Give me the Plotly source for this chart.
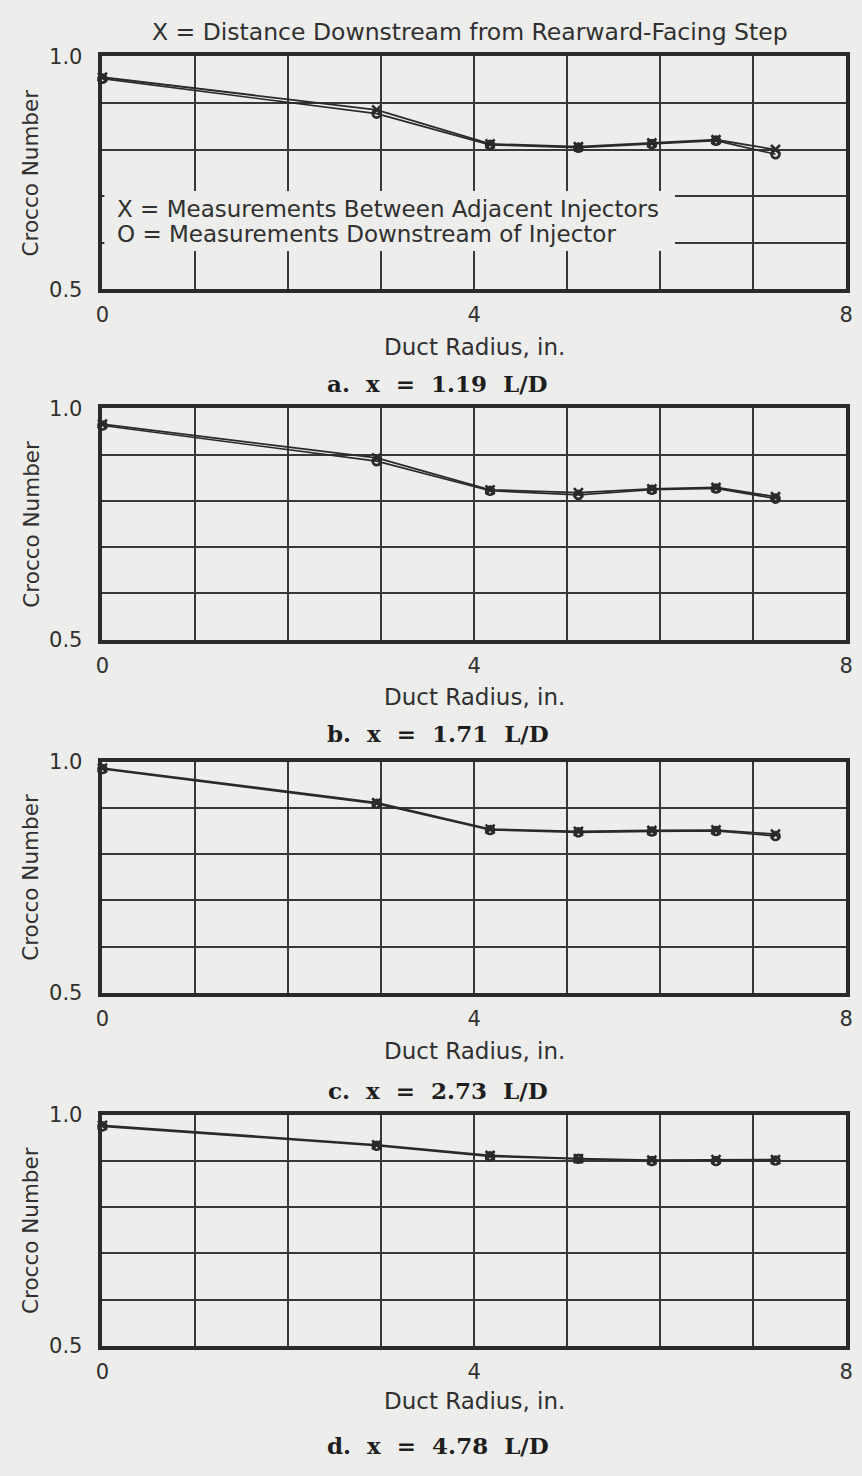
import plotly.graph_objects as go

# ---- data ----
radius = [0, 2.95, 4.17, 5.12, 5.91, 6.60, 7.24]

a_between = [0.955, 0.885, 0.812, 0.806, 0.814, 0.821, 0.800]
a_downstream = [0.952, 0.877, 0.810, 0.804, 0.812, 0.819, 0.790]
b_between = [0.966, 0.893, 0.824, 0.818, 0.826, 0.829, 0.809]
b_downstream = [0.963, 0.886, 0.822, 0.813, 0.824, 0.827, 0.805]
c_between = [0.986, 0.911, 0.854, 0.849, 0.851, 0.852, 0.843]
c_downstream = [0.984, 0.909, 0.852, 0.847, 0.849, 0.850, 0.839]
d_between = [0.977, 0.935, 0.912, 0.905, 0.902, 0.903, 0.903]
d_downstream = [0.975, 0.933, 0.910, 0.905, 0.900, 0.900, 0.901]

captions = ["a.&#160;&#160;x&#160;&#160;=&#160;&#160;1.19&#160;&#160;L/D",
            "b.&#160;&#160;x&#160;&#160;=&#160;&#160;1.71&#160;&#160;L/D",
            "c.&#160;&#160;x&#160;&#160;=&#160;&#160;2.73&#160;&#160;L/D",
            "d.&#160;&#160;x&#160;&#160;=&#160;&#160;4.78&#160;&#160;L/D"]
x_tickvals = [0, 1, 2, 3, 4, 5, 6, 7, 8]
x_ticktext = ["0", "", "", "", "4", "", "", "", "8"]
y_tickvals = [0.5, 0.6, 0.7, 0.8, 0.9, 1.0]
y_ticktext = ["0.5", "", "", "", "", "1.0"]

W, H = 862, 1476
BG = "#ededeb"
INK = "#2a2a2a"
TXT = "#303030"
SANS = "DejaVu Sans"
SERIF = "DejaVu Serif"

panels = [(a_between, a_downstream), (b_between, b_downstream),
          (c_between, c_downstream), (d_between, d_downstream)]
# pixel layout of each plot area (top, bottom) and text rows below it
rows_px = [(45, 282), (403, 638), (762, 997), (1121, 1356)]
xtitle_px = [341, 696, 1056, 1412]
caption_px = [378, 733, 1096, 1457]
left_px, right_px = 97, 853


def fx(p):
    return p / W


def fy(p):
    return 1 - p / H


fig = go.Figure()
annotations = []
shapes = []

for i, ((xb, xo), (top, bot)) in enumerate(zip(panels, rows_px)):
    n = "" if i == 0 else str(i + 1)
    xa, ya = "x" + n, "y" + n
    fig.add_trace(go.Scatter(
        x=radius, y=xb, xaxis=xa, yaxis=ya, mode="lines+markers",
        line=dict(color=INK, width=1.8),
        marker=dict(symbol="x-thin", size=9, line=dict(color=INK, width=2.6)),
        showlegend=False, cliponaxis=False))
    fig.add_trace(go.Scatter(
        x=radius, y=xo, xaxis=xa, yaxis=ya, mode="lines+markers",
        line=dict(color=INK, width=1.6),
        marker=dict(symbol="circle-open", size=8, color=INK, line=dict(color=INK, width=2.6)),
        showlegend=False, cliponaxis=False))

    common = dict(showline=True, mirror=True, linewidth=3.5, linecolor=INK,
                  showgrid=True, gridcolor="#383838", gridwidth=1.8,
                  zeroline=False, ticks="", tickfont=dict(family=SANS, size=21, color=TXT))
    fig.update_layout({
        "xaxis" + n: dict(common, domain=[fx(left_px), fx(right_px)], range=[0, 8],
                          tickvals=x_tickvals, ticktext=x_ticktext, anchor=ya,
                          ticklabelstandoff=4),
        "yaxis" + n: dict(common, domain=[fy(bot), fy(top)], range=[0.5, 1.0],
                          tickvals=y_tickvals, ticktext=y_ticktext, anchor=xa,
                          ticklabelstandoff=12),
    })

    # y title
    annotations.append(dict(x=fx(24), y=fy((top + bot) / 2), xref="paper", yref="paper",
                            text="Crocco Number", textangle=-90, showarrow=False,
                            font=dict(family=SANS, size=21.5, color=TXT),
                            xanchor="center", yanchor="middle"))
    # x title
    annotations.append(dict(x=fx(475), y=fy(xtitle_px[i]), xref="paper", yref="paper",
                            text="Duct Radius, in.", showarrow=False,
                            font=dict(family=SANS, size=23, color=TXT),
                            xanchor="center", yanchor="middle"))
    # caption
    annotations.append(dict(x=fx(438), y=fy(caption_px[i]), xref="paper", yref="paper",
                            text="<b>" + captions[i] + "</b>", showarrow=False,
                            font=dict(family=SERIF, size=23, color="#1e1e1e"),
                            xanchor="center", yanchor="middle"))

# top title
annotations.append(dict(x=fx(471), y=fy(20), xref="paper", yref="paper",
                        text="X = Distance Downstream from Rearward-Facing Step", showarrow=False,
                        font=dict(family=SANS, size=23.5, color=TXT),
                        xanchor="center", yanchor="middle"))
# legend text in panel a
shapes.append(dict(type="rect", xref="paper", yref="paper", layer="above",
                   x0=fx(99), x1=fx(679), y0=fy(243), y1=fy(182),
                   fillcolor=BG, line=dict(width=0)))
annotations.append(dict(x=fx(110), y=fy(200), xref="paper", yref="paper",
                        text="X = Measurements Between Adjacent Injectors", showarrow=False,
                        font=dict(family=SANS, size=23, color=TXT),
                        xanchor="left", yanchor="middle"))
annotations.append(dict(x=fx(110), y=fy(226), xref="paper", yref="paper",
                        text="O = Measurements Downstream of Injector", showarrow=False,
                        font=dict(family=SANS, size=23, color=TXT),
                        xanchor="left", yanchor="middle"))

fig.update_layout(autosize=True, margin=dict(l=0, r=0, t=0, b=0),
                  paper_bgcolor=BG, plot_bgcolor=BG,
                  annotations=annotations, shapes=shapes, showlegend=False)

fig.write_html("out.html",
               config={"displayModeBar": False, "responsive": True},
               default_width="100vw", default_height="100vh",
               post_script="document.documentElement.style.margin='0';"
                           "document.body.style.margin='0';"
                           "document.body.style.overflow='hidden';"
                           "document.body.style.background='" + BG + "';"
                           "Plotly.Plots.resize(document.getElementById('{plot_id}'));")
